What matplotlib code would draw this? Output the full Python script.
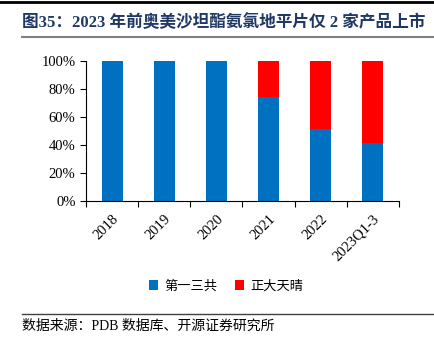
import matplotlib
matplotlib.use("Agg")
import matplotlib.pyplot as plt
from matplotlib.lines import Line2D
from matplotlib.ticker import FuncFormatter

categories = ["2018", "2019", "2020", "2021", "2022", "2023Q1-3"]
daiichi = [100, 100, 100, 74, 51.5, 41.5]
chiatai = [0, 0, 0, 26, 48.5, 58.5]
series_names = ["第一三共", "正大天晴"]

cjk = ["Noto Sans CJK SC", "DejaVu Sans"]
serif = ["Liberation Serif", "Noto Sans CJK SC"]

fig = plt.figure(figsize=(4.35, 3.5), dpi=100)
ax = fig.add_axes([86 / 435, 1 - 201 / 350, 313 / 435, 140.5 / 350])

x = range(len(categories))
ax.bar(x, daiichi, width=0.4, color="#0070C0", label=series_names[0])
ax.bar(x, chiatai, width=0.4, bottom=daiichi, color="#FF0000", label=series_names[1])

ax.set_xlim(-0.5, len(categories) - 0.5)
ax.set_ylim(0, 100)
ax.set_yticks(range(0, 101, 20))
ax.yaxis.set_major_formatter(FuncFormatter(lambda v, p: f"{v:.0f}%"))
ax.set_xticks([i - 0.5 for i in range(len(categories) + 1)], minor=False)
ax.set_xticklabels([])
ax.set_xticks(list(x), minor=True)
ax.set_xticklabels(categories, minor=True, rotation=45, ha="right",
                   rotation_mode="anchor", family=serif, fontsize=10.5)
ax.tick_params(axis="x", which="minor", length=0, pad=8)
ax.tick_params(axis="x", which="major", length=4, direction="out", width=0.8)
ax.tick_params(axis="y", length=4, direction="out", width=0.8, labelsize=10.5)
for lab in ax.get_yticklabels():
    lab.set_family(serif)
for s in ["top", "right"]:
    ax.spines[s].set_visible(False)
ax.spines["left"].set_color("#000000")
ax.spines["bottom"].set_color("#000000")

leg = fig.legend(loc="center", bbox_to_anchor=(0.52, 1 - 286 / 350), ncol=2,
                 frameon=False, handlelength=0.7, handleheight=0.7,
                 handletextpad=0.5, columnspacing=1.3,
                 prop={"family": cjk, "size": 9.5})

# header / footer decoration
fig.add_artist(Line2D([0, 1], [1 - 1.5 / 350] * 2, color="black", lw=2))
fig.add_artist(Line2D([22 / 435, 1], [1 - 37 / 350] * 2, color="#808080", lw=1.5))
fig.add_artist(Line2D([22 / 435, 1], [1 - 314 / 350] * 2, color="#404040", lw=1))
fig.text(22 / 435, 1 - 23 / 350, "图35：2023 年前奥美沙坦酯氨氯地平片仅 2 家产品上市",
         family=serif, fontsize=12, fontweight="bold", color="#1F3864",
         ha="left", va="center")
fig.text(22 / 435, 1 - 326 / 350, "数据来源：PDB 数据库、开源证券研究所",
         family=serif, fontsize=10, color="#000000", ha="left", va="center")

fig.savefig("out.png", dpi=100)
